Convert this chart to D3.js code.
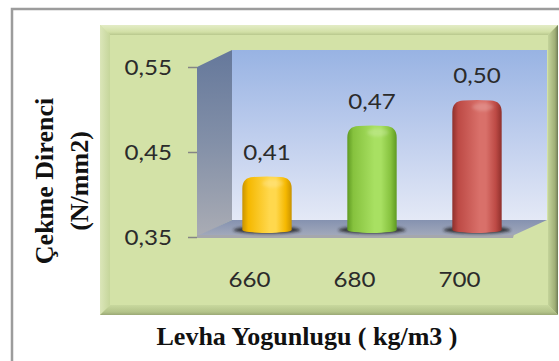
<!DOCTYPE html>
<html>
<head>
<meta charset="utf-8">
<script src="https://cdn.jsdelivr.net/npm/d3@7"></script>
<style>
  html, body { margin: 0; padding: 0; background: #ffffff; }
  svg { display: block; }
</style>
</head>
<body>
<svg id="chart" width="559" height="361"></svg>
<script>
// Tensile strength by board density
const categories = ["660", "680", "700"];
const values = [0.41, 0.47, 0.50];
const valueLabels = ["0,41", "0,47", "0,50"];
const tickValues = [0.35, 0.45, 0.55];
const tickLabels = ["0,35", "0,45", "0,55"];
const yTitleLines = ["Çekme Direnci", "(N/mm2)"];
const xTitle = "Levha Yogunlugu ( kg/m3 )";

const barColors = [
  { dark: "#c99300", base: "#f5b800", light: "#ffd84d" },
  { dark: "#5f9a22", base: "#86c23e", light: "#a8e062" },
  { dark: "#8f302c", base: "#bd4a45", light: "#d9706a" }
];

const svg = d3.select("#chart");
const defs = svg.append("defs");

// Outer chart frame
svg.append("rect")
  .attr("x", 12).attr("y", 9).attr("width", 620).attr("height", 420)
  .attr("fill", "#ffffff").attr("stroke", "#9c9c9c").attr("stroke-width", 2.5);

// Bevelled green panel
const P = { x0: 100, y0: 25, x1: 558, y1: 315, b: 10 };
svg.append("rect")
  .attr("x", P.x0).attr("y", P.y0).attr("width", P.x1 - P.x0).attr("height", P.y1 - P.y0)
  .attr("fill", "#d3e2a7");

function lg(id, x1, y1, x2, y2, stops) {
  const g = defs.append("linearGradient").attr("id", id)
    .attr("x1", x1).attr("y1", y1).attr("x2", x2).attr("y2", y2);
  stops.forEach(s => g.append("stop").attr("offset", s[0]).attr("stop-color", s[1]));
  return "url(#" + id + ")";
}
const bevTop = lg("bevTop", 0, 0, 0, 1, [["0", "#e3ecc6"], ["0.7", "#d2e0a6"], ["1", "#b8c88d"]]);
const bevLeft = lg("bevLeft", 0, 0, 1, 0, [["0", "#dbe6b9"], ["1", "#c6d69b"]]);
const bevRight = lg("bevRight", 0, 0, 1, 0, [["0", "#c4d49a"], ["0.7", "#9fae76"], ["1", "#6f7a55"]]);
const bevBottom = lg("bevBottom", 0, 0, 0, 1, [["0", "#c8d89e"], ["0.7", "#b3c389"], ["1", "#9aa875"]]);

const bevels = [
  { f: bevTop, pts: [[P.x0, P.y0], [P.x1, P.y0], [P.x1 - P.b, P.y0 + P.b], [P.x0 + P.b, P.y0 + P.b]] },
  { f: bevLeft, pts: [[P.x0, P.y0], [P.x0 + P.b, P.y0 + P.b], [P.x0 + P.b, P.y1 - P.b], [P.x0, P.y1]] },
  { f: bevRight, pts: [[P.x1, P.y0], [P.x1, P.y1], [P.x1 - P.b, P.y1 - P.b], [P.x1 - P.b, P.y0 + P.b]] },
  { f: bevBottom, pts: [[P.x0, P.y1], [P.x0 + P.b, P.y1 - P.b], [P.x1 - P.b, P.y1 - P.b], [P.x1, P.y1]] }
];
svg.selectAll("polygon.bevel").data(bevels).join("polygon")
  .attr("class", "bevel")
  .attr("points", d => d.pts.map(p => p.join(",")).join(" "))
  .attr("fill", d => d.f);

// Scales on the front plane of the 3D box
const DX = 35, DY = 17;
const x = d3.scaleBand().domain(categories).range([197, 512]);
const y = d3.scaleLinear().domain([0.35, 0.55]).range([237, 67]);

const xL = x.range()[0], xR = x.range()[1];
const yB = y(0.35), yT = y(0.55);

// Walls and floor
const backFill = lg("backWall", 0, 0, 0, 1, [["0", "#98b3e3"], ["0.55", "#c2d0ee"], ["1", "#e4e9f6"]]);
const sideFill = lg("sideWall", 0, 0, 0, 1, [["0", "#65789b"], ["0.5", "#8390a8"], ["1", "#aaacb4"]]);
const floorFill = lg("floor", 0, 0, 0, 1, [["0", "#8592b0"], ["1", "#a3aabb"]]);

svg.append("rect")
  .attr("x", xL + DX).attr("y", yT - DY)
  .attr("width", xR - xL).attr("height", yB - yT)
  .attr("fill", backFill);

svg.append("polygon")
  .attr("points", [[xL, yT], [xL + DX, yT - DY], [xL + DX, yB - DY], [xL, yB]].map(p => p.join(",")).join(" "))
  .attr("fill", sideFill);

svg.append("polygon")
  .attr("points", [[xL, yB - 1], [xL + DX, yB - DY], [xR + DX, yB - DY], [xR, yB - 1]].map(p => p.join(",")).join(" "))
  .attr("fill", floorFill);

svg.append("polygon")
  .attr("points", [[xL, yB - 2], [xR, yB - 2], [xR + 2, yB - 3], [xR + 1, yB + 1], [xL, yB + 1]].map(p => p.join(",")).join(" "))
  .attr("fill", "#a5a7ad");

// Y axis with ticks on the front plane
const SX = 1.15;
const yAxis = d3.axisLeft(y)
  .tickValues(tickValues)
  .tickFormat((d, i) => tickLabels[i])
  .tickSizeInner(9).tickSizeOuter(0).tickPadding(16);
const gy = svg.append("g").attr("transform", `translate(${xL},0)`).call(yAxis);
gy.select(".domain").remove();
gy.selectAll(".tick line").attr("stroke", "#858585").attr("stroke-width", 1.5);
gy.selectAll(".tick text")
  .attr("font-family", "Lato, 'Open Sans', sans-serif")
  .attr("font-size", 21)
  .attr("fill", "#2b2b2b")
  .attr("dy", "0.38em")
  .attr("x", -25 / SX)
  .attr("transform", `scale(${SX},1)`);

// Category labels
const xAxis = d3.axisBottom(x).tickSizeInner(0).tickSizeOuter(0).tickPadding(35);
const gx = svg.append("g").attr("transform", `translate(0,${yB})`).call(xAxis);
gx.select(".domain").remove();
gx.selectAll(".tick text")
  .attr("font-family", "Lato, 'Open Sans', sans-serif")
  .attr("font-size", 21)
  .attr("fill", "#2b2b2b")
  .attr("transform", `scale(${SX},1)`);

// Cylinder bars with rounded tops, placed mid-depth
const barW = x.bandwidth() * 0.47;
const data = categories.map((c, i) => ({ c, v: values[i], label: valueLabels[i], col: barColors[i], i }));

data.forEach(d => {
  lg("bar" + d.i, 0, 0, 1, 0, [
    ["0", d.col.dark], ["0.12", d.col.base], ["0.55", d.col.light],
    ["0.68", d.col.light], ["0.88", d.col.base], ["1", d.col.dark]
  ]);
});
defs.append("filter").attr("id", "soft").attr("x", "-20%").attr("y", "-100%").attr("width", "140%").attr("height", "300%")
  .append("feGaussianBlur").attr("stdDeviation", 1.6);

const barCx = d => x(d.c) + x.bandwidth() / 2 + DX / 2;
const barTop = d => y(d.v) - DY / 2;
const barBase = yB - DY / 2 + 1.5;

svg.selectAll("ellipse.shadow").data(data).join("ellipse")
  .attr("class", "shadow")
  .attr("cx", d => barCx(d)).attr("cy", barBase)
  .attr("rx", barW / 2 + 9).attr("ry", 3.5)
  .attr("fill", "#1a1a1a").attr("opacity", 0.85)
  .attr("filter", "url(#soft)");

const r = 11;
function barPath(d) {
  const cx = barCx(d), x0 = cx - barW / 2, x1 = cx + barW / 2, t = barTop(d);
  return `M${x0},${barBase} L${x0},${t + r} Q${x0},${t} ${x0 + r},${t - 0.5} ` +
    `Q${cx},${t - 1.5} ${x1 - r},${t - 0.5} Q${x1},${t} ${x1},${t + r} ` +
    `L${x1},${barBase} A${barW / 2},3 0 0 1 ${x0},${barBase} Z`;
}
svg.selectAll("path.bar").data(data).join("path")
  .attr("class", "bar")
  .attr("d", barPath)
  .attr("fill", d => `url(#bar${d.i})`);

// soft highlight on the rounded top
svg.selectAll("ellipse.shine").data(data).join("ellipse")
  .attr("class", "shine")
  .attr("cx", d => barCx(d) + barW * 0.12).attr("cy", d => barTop(d) + 6)
  .attr("rx", barW * 0.22).attr("ry", 4)
  .attr("fill", "#ffffff").attr("opacity", 0.18)
  .attr("filter", "url(#soft)");

// Value labels
svg.selectAll("text.value").data(data).join("text")
  .attr("class", "value")
  .attr("transform", d => `translate(${barCx(d)},${barTop(d) - 18}) scale(${SX},1)`)
  .attr("text-anchor", "middle")
  .attr("font-family", "Lato, 'Open Sans', sans-serif")
  .attr("font-size", 21)
  .attr("fill", "#2b2b2b")
  .text(d => d.label);

// Axis titles
const titleFont = "'Liberation Serif', 'Times New Roman', serif";
const yTitle = svg.append("text")
  .attr("transform", "translate(53,181) rotate(-90)")
  .attr("text-anchor", "middle")
  .attr("font-family", titleFont)
  .attr("font-weight", "bold")
  .attr("font-size", 26)
  .attr("fill", "#111111");
yTitle.selectAll("tspan").data(yTitleLines).join("tspan")
  .attr("x", 0).attr("dy", (d, i) => i === 0 ? 0 : 35)
  .text(d => d);

svg.append("text")
  .attr("x", 307).attr("y", 345)
  .attr("text-anchor", "middle")
  .attr("font-family", titleFont)
  .attr("font-weight", "bold")
  .attr("font-size", 26)
  .attr("fill", "#111111")
  .text(xTitle);
</script>
</body>
</html>
